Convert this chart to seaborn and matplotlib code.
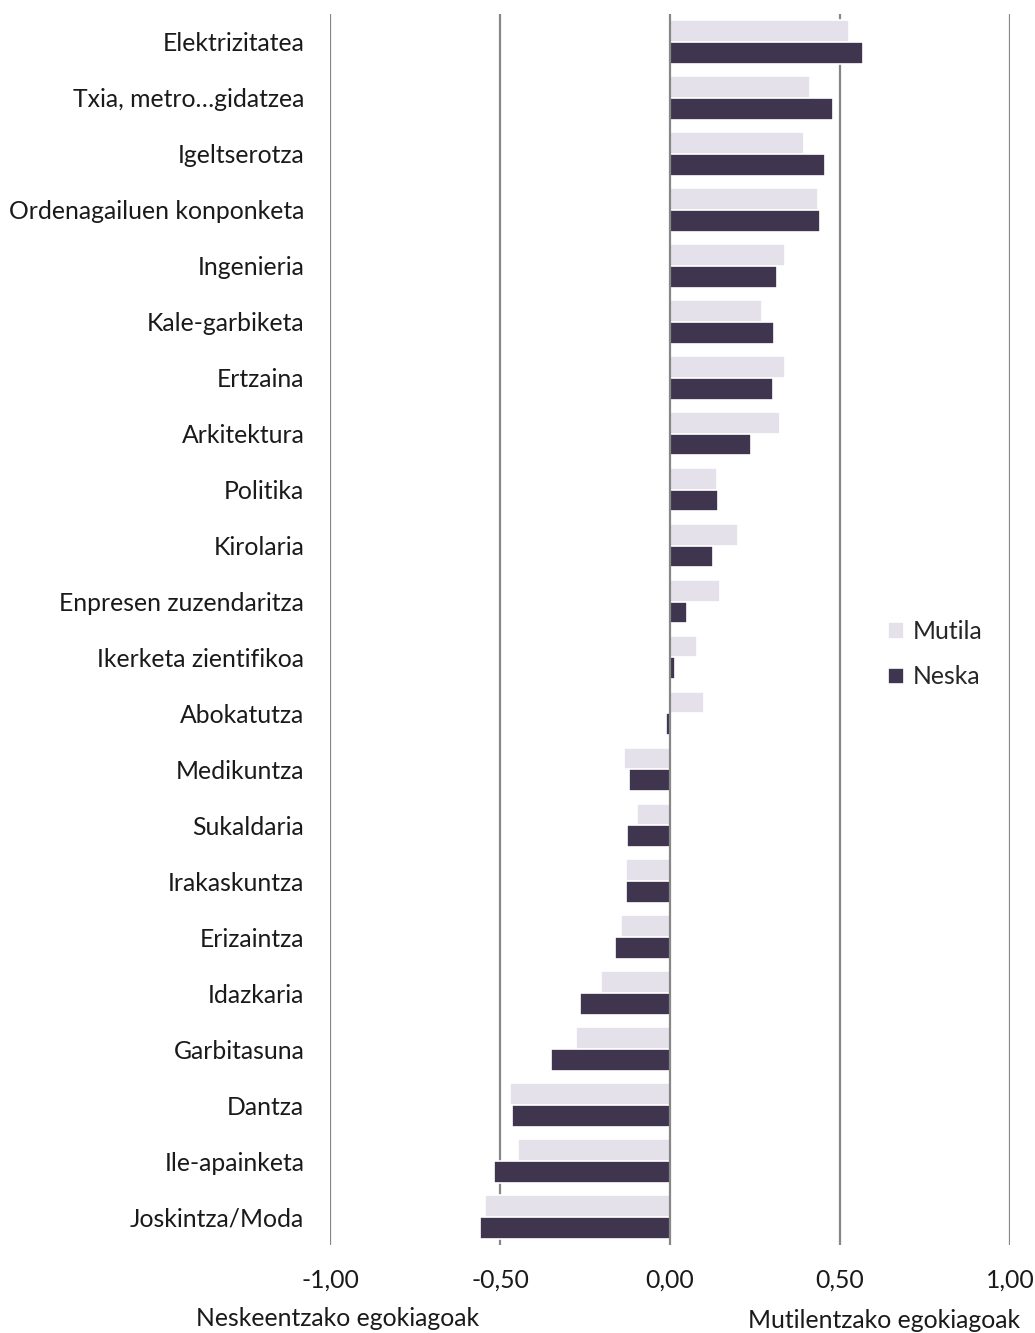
import matplotlib
matplotlib.use("Agg")
import matplotlib.pyplot as plt
import seaborn as sns
import pandas as pd

categories = ["Elektrizitatea", "Txia, metro…gidatzea", "Igeltserotza", "Ordenagailuen konponketa",
              "Ingenieria", "Kale-garbiketa", "Ertzaina", "Arkitektura", "Politika", "Kirolaria",
              "Enpresen zuzendaritza", "Ikerketa zientifikoa", "Abokatutza", "Medikuntza", "Sukaldaria",
              "Irakaskuntza", "Erizaintza", "Idazkaria", "Garbitasuna", "Dantza", "Ile-apainketa",
              "Joskintza/Moda"]
mutila = [0.526, 0.411, 0.393, 0.435, 0.338, 0.272, 0.339, 0.324, 0.139, 0.200, 0.146, 0.079, 0.100,
          -0.134, -0.097, -0.129, -0.144, -0.203, -0.276, -0.471, -0.447, -0.543]
neska = [0.568, 0.480, 0.457, 0.440, 0.314, 0.307, 0.303, 0.238, 0.141, 0.125, 0.051, 0.016, -0.013,
         -0.120, -0.126, -0.128, -0.161, -0.265, -0.349, -0.464, -0.517, -0.558]
series = ["Mutila", "Neska"]
xticks = [-1.0, -0.5, 0.0, 0.5, 1.0]
xtick_labels = ["-1,00", "-0,50", "0,00", "0,50", "1,00"]

df = pd.DataFrame({
    "category": categories * 2,
    "value": mutila + neska,
    "series": [series[0]] * len(categories) + [series[1]] * len(categories),
})

sns.set_theme(style="white")
plt.rcParams["font.family"] = ["Lato", "DejaVu Sans"]
FS = 17.8

fig = plt.figure(figsize=(10.35, 13.33), dpi=100)
ax = fig.add_axes([330 / 1035, 1 - 1245 / 1333, 680 / 1035, (1245 - 14) / 1333])

for x in xticks:
    ax.axvline(x, color="#878787", linewidth=1.6, zorder=0.5 if x != 0 else 4)

sns.barplot(data=df, x="value", y="category", hue="series", hue_order=series, order=categories,
            orient="h", palette={"Mutila": "#E4DFEC", "Neska": "#403152"}, width=0.78,
            edgecolor="white", linewidth=1.2, ax=ax)
for p in ax.patches:
    p.set_zorder(3)

ax.set_xlim(-1.0, 1.0)
ax.set_ylim(len(categories) - 0.5, -0.5)
ax.set_xticks(xticks)
ax.set_xticklabels(xtick_labels, fontsize=FS, color="#1a1a1a")
ax.tick_params(axis="x", length=0, pad=17)
ax.tick_params(axis="y", length=0, pad=18.5, labelsize=FS, labelcolor="#1a1a1a")
ax.set_xlabel("")
ax.set_ylabel("")
for s in ax.spines.values():
    s.set_visible(False)

leg = ax.legend(loc="upper left", bbox_to_anchor=(866 / 1035, 1 - 598 / 1333),
                bbox_transform=fig.transFigure, frameon=False, fontsize=FS,
                handlelength=0.65, handleheight=0.65, handletextpad=0.35, labelspacing=0.9)

fig.text(338 / 1035, 1 - 1318 / 1333, "Neskeentzako egokiagoak", ha="center", va="center",
         fontsize=FS, color="#1a1a1a")
fig.text(884 / 1035, 1 - 1321 / 1333, "Mutilentzako egokiagoak", ha="center", va="center",
         fontsize=FS, color="#1a1a1a")

fig.savefig("out.png", dpi=100)
